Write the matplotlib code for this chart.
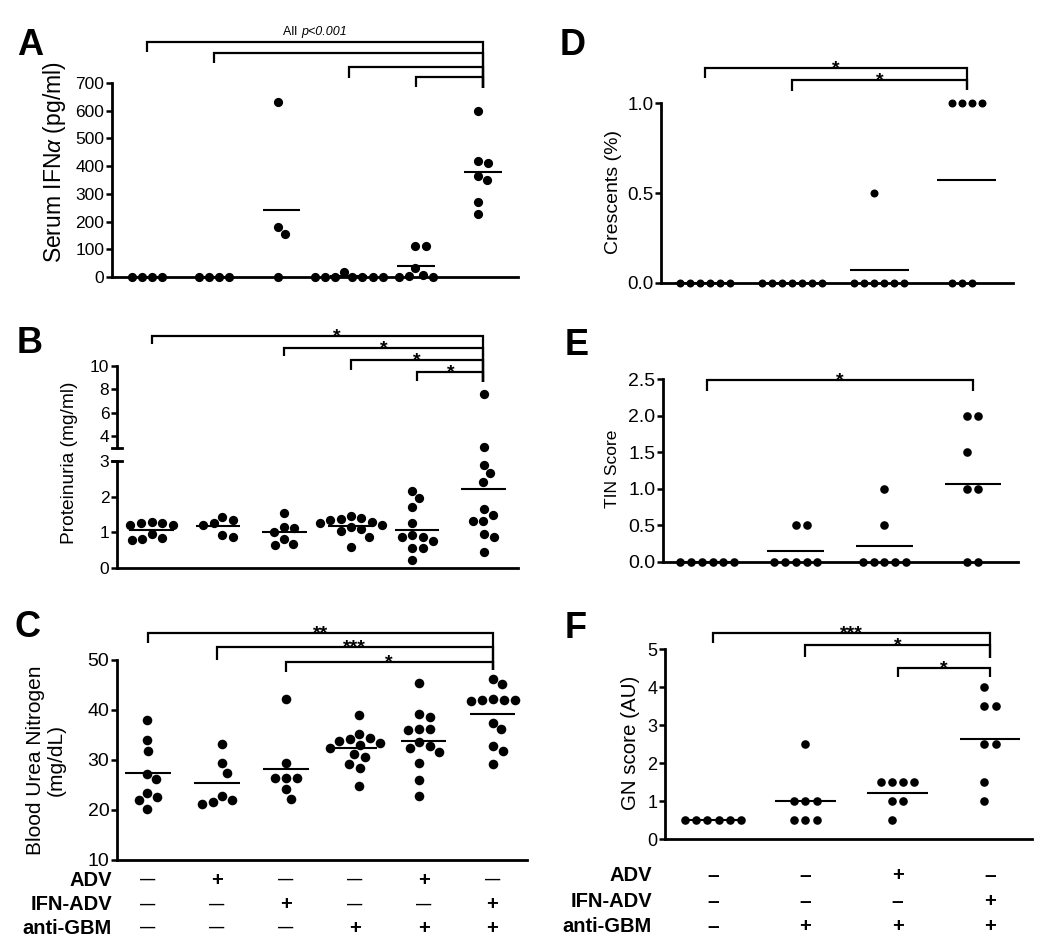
import numpy as np
import matplotlib
matplotlib.use("Agg")
import matplotlib.pyplot as plt
from matplotlib.transforms import blended_transform_factory
from matplotlib.lines import Line2D
from matplotlib.offsetbox import TextArea, HPacker, AnnotationBbox
from matplotlib.ticker import FormatStrFormatter

plt.rcParams['font.family'] = ['Liberation Sans', 'DejaVu Sans']
plt.rcParams['mathtext.fontset'] = 'custom'
plt.rcParams['mathtext.rm'] = 'Liberation Sans'
plt.rcParams['mathtext.it'] = 'Liberation Sans:italic'
plt.rcParams['mathtext.bf'] = 'Liberation Sans:bold'

# ---------------- data ----------------
# A: serum IFN-alpha (pg/ml), six groups
ifn_g1 = [0, 0, 0, 0]
ifn_g2 = [0, 0, 0, 0]
ifn_g3 = [630, 182, 155, 0]
ifn_g4 = [18, 0, 0, 0, 0, 0, 0, 0]
ifn_g5 = [112, 112, 32, 8, 5, 0, 0]
ifn_g6 = [600, 418, 410, 365, 350, 270, 228]

# B: proteinuria (mg/ml)
prot_g1 = [1.3, 1.25, 1.25, 1.2, 1.2, 0.95, 0.85, 0.8, 0.78]
prot_g2 = [1.42, 1.35, 1.25, 1.2, 0.93, 0.88]
prot_g3 = [1.55, 1.15, 1.12, 1.0, 0.82, 0.68, 0.65]
prot_g4 = [1.45, 1.4, 1.38, 1.35, 1.3, 1.25, 1.2, 1.15, 1.1, 1.05, 0.88, 0.6]
prot_g5 = [2.17, 1.95, 1.7, 1.25, 0.92, 0.86, 0.86, 0.75, 0.55, 0.55, 0.22]
prot_g6 = [7.6, 3.1, 2.9, 2.65, 2.42, 1.65, 1.48, 1.33, 1.32, 0.95, 0.87, 0.45]

# C: blood urea nitrogen (mg/dL)
bun_g1 = [38, 34, 31.8, 27.3, 26.2, 23.5, 22.7, 22, 20.3]
bun_g2 = [33.2, 29.4, 27.5, 22.9, 22, 21.6, 21.3]
bun_g3 = [42.3, 29.4, 26.5, 26.5, 26.5, 24.2, 22.3]
bun_g4 = [39, 35.2, 34.5, 34.2, 33.8, 33.5, 33, 32.5, 31.2, 30.7, 29.2, 28.4, 24.8]
bun_g5 = [45.5, 39.2, 38.7, 36.2, 36.2, 36, 33.6, 32.8, 32.4, 31.6, 29.4, 26.0, 22.9]
bun_g6 = [46.3, 45.2, 42.2, 42.1, 42.1, 42, 41.9, 37.5, 36.2, 32.8, 31.9, 29.2]

# D: crescents (%)
cres_g1 = [0, 0, 0, 0, 0, 0]
cres_g2 = [0, 0, 0, 0, 0, 0, 0]
cres_g3 = [0.5, 0, 0, 0, 0, 0, 0]
cres_g4 = [1, 1, 1, 1, 0, 0, 0]

# E: TIN score
tin_g1 = [0, 0, 0, 0, 0, 0]
tin_g2 = [0.5, 0.5, 0, 0, 0, 0, 0]
tin_g3 = [1, 0.5, 0, 0, 0, 0, 0]
tin_g4 = [2, 2, 1.5, 1, 1, 0, 0]

# F: GN score (AU)
gn_g1 = [0.5, 0.5, 0.5, 0.5, 0.5, 0.5]
gn_g2 = [2.5, 1, 1, 1, 0.5, 0.5, 0.5]
gn_g3 = [1.5, 1.5, 1.5, 1.5, 1, 1, 0.5]
gn_g4 = [4, 3.5, 3.5, 2.5, 2.5, 1.5, 1]

# tick values
ifn_ticks = [0, 100, 200, 300, 400, 500, 600, 700]
prot_low_ticks = [0, 1, 2, 3]
prot_high_ticks = [4, 6, 8, 10]
bun_ticks = [10, 20, 30, 40, 50]
cres_ticks = [0.0, 0.5, 1.0]
tin_ticks = [0.0, 0.5, 1.0, 1.5, 2.0, 2.5]
gn_ticks = [0, 1, 2, 3, 4, 5]

# treatment rows
row_names = ['ADV', 'IFN-ADV', 'anti-GBM']
c_signs = [['—', '+', '—', '—', '+', '—'],
           ['—', '—', '+', '—', '—', '+'],
           ['—', '—', '—', '+', '+', '+']]
f_signs = [['–', '–', '+', '–'],
           ['–', '–', '–', '+'],
           ['–', '+', '+', '+']]

# comparisons (group i vs group j, label)
a_pairs = [(1, 6, ''), (2, 6, ''), (4, 6, ''), (5, 6, '')]
b_pairs = [(1, 6, '*'), (3, 6, '*'), (4, 6, '*'), (5, 6, '*')]
c_pairs = [(1, 6, '**'), (2, 6, '***'), (3, 6, '*')]
d_pairs = [(1, 4, '*'), (2, 4, '*')]
e_pairs = [(1, 4, '*')]
f_pairs = [(1, 4, '***'), (2, 4, '*'), (3, 4, '*')]

# ---------------- layout helpers ----------------
W, H = 1050, 940
fig = plt.figure(figsize=(W / 100, H / 100), dpi=100)


def make_ax(x0, x1, ytop, ybot):
    return fig.add_axes([x0 / W, 1 - ybot / H, (x1 - x0) / W, (ybot - ytop) / H])


def style(ax, xlim, ylim, yticks, fs, fmt=None, bottom=True):
    ax.set_xlim(xlim)
    ax.set_ylim(ylim)
    ax.set_yticks(yticks)
    if fmt:
        ax.yaxis.set_major_formatter(FormatStrFormatter(fmt))
    ax.set_xticks([])
    for s in ('top', 'right'):
        ax.spines[s].set_visible(False)
    ax.spines['left'].set_linewidth(2.0)
    ax.spines['bottom'].set_linewidth(2.0)
    if not bottom:
        ax.spines['bottom'].set_visible(False)
    ax.tick_params(axis='y', length=4.5, width=1.8, labelsize=fs, pad=1.0)
    ax.patch.set_alpha(0)


def swarm_offsets(ys, d):
    ys = np.asarray(ys, float)
    offs = np.zeros(len(ys))
    placed = []
    for i in np.argsort(-ys, kind='stable'):
        y = ys[i]
        cands = [0.0]
        for px, py in placed:
            dy = y - py
            if abs(dy) < d:
                dx = np.sqrt(d * d - dy * dy)
                cands.extend([px + dx, px - dx])
        cands.sort(key=lambda c: (round(abs(c), 6), -c))
        chosen = cands[-1]
        for c in cands:
            if all((c - px) ** 2 + (y - py) ** 2 >= d * d - 1e-6 for px, py in placed):
                chosen = c
                break
        offs[i] = chosen
        placed.append((chosen, y))
    offs -= (offs.max() + offs.min()) / 2
    return offs


def plot_groups(ax, groups, diam, hw, gap=1.2, pick=None):
    """pick(v) -> axes on which value v is drawn (for broken axes)."""
    if pick is None:
        pick = lambda v: ax
    ppu = ax.transData.transform((1, 0))[0] - ax.transData.transform((0, 0))[0]
    s = (diam * 0.72) ** 2
    for k, vals in enumerate(groups):
        x = k + 1
        yd = [pick(v).transData.transform((x, v))[1] for v in vals]
        offs = swarm_offsets(yd, diam * gap) / ppu
        for target in {pick(v) for v in vals}:
            xs = [x + o for v, o in zip(vals, offs) if pick(v) is target]
            vs = [v for v in vals if pick(v) is target]
            target.scatter(xs, vs, s=s, color='black', linewidths=0,
                           clip_on=False, zorder=4)
        m = float(np.mean(vals))
        pick(m).plot([x - hw, x + hw], [m, m], color='black', lw=1.5,
                     solid_capstyle='butt', clip_on=False, zorder=4)


def brackets(ax, pairs, specs, fs=14, label_x=None):
    tr = blended_transform_factory(ax.transData, ax.transAxes)
    for n, ((x1, x2, lab), (ybar, yl, yr)) in enumerate(zip(pairs, specs)):
        ax.plot([x1, x1, x2, x2], [yl, ybar, ybar, yr], transform=tr,
                color='black', lw=1.6, clip_on=False, solid_joinstyle='miter',
                solid_capstyle='butt')
        if lab:
            xm = (x1 + x2) / 2
            if label_x and n in label_x:
                xm = label_x[n]
            ax.annotate(lab, xy=(xm, ybar), xycoords=tr, xytext=(0, -3.6),
                        textcoords='offset points', ha='center', va='baseline',
                        fontsize=fs, fontweight='bold', annotation_clip=False)


def hbar(ax, yfrac, half=5):
    pos = ax.get_position()
    xs = pos.x0 * W
    ys = (pos.y0 + yfrac * pos.height) * H
    fig.add_artist(Line2D([(xs - half) / W, (xs + half) / W], [ys / H, ys / H],
                          transform=fig.transFigure, color='black', lw=2))


def panel_letter(x, baseline, letter):
    fig.text(x / W, 1 - baseline / H, letter, fontsize=26, fontweight='bold',
             ha='left', va='baseline')


def ylabel(xc, yc, text, fs):
    fig.text(xc / W, 1 - yc / H, text, rotation=90, ha='center', va='center',
             fontsize=fs, multialignment='center', linespacing=1.1)


def treatment_rows(ax, signs, label_x, row_y, fs, sign_fs):
    trx = blended_transform_factory(ax.transData, ax.transAxes)
    for r, name in enumerate(row_names):
        ax.text(label_x, row_y[r], name, transform=ax.transAxes, ha='right',
                va='center', fontsize=fs, fontweight='bold')
        for g, sg in enumerate(signs[r]):
            ax.text(g + 1, row_y[r], sg, transform=trx, ha='center', va='center',
                    fontsize=sign_fs if sg != '+' else fs,
                    fontweight='bold')


# ---------------- panel A ----------------
axA = make_ax(112, 518, 83, 277)
style(axA, (0.48, 6.52), (0, 700), ifn_ticks, 12.5)
plot_groups(axA, [ifn_g1, ifn_g2, ifn_g3, ifn_g4, ifn_g5, ifn_g6], 9.2, 0.28, gap=1.1)
brackets(axA, a_pairs, [(1.211, 1.160, 0.974), (1.155, 1.103, 0.974),
                        (1.082, 1.026, 0.974), (1.031, 0.979, 0.974)])
trA = blended_transform_factory(axA.transData, axA.transAxes)
pv = HPacker(children=[TextArea("All ", textprops=dict(fontsize=9)),
                       TextArea("p<0.001", textprops=dict(fontsize=9, style='italic'))],
             pad=0, sep=0, align='baseline')
axA.add_artist(AnnotationBbox(pv, (3.5, 1.263), xycoords=trA, frameon=False,
                              box_alignment=(0.5, 0.5), annotation_clip=False))
ylabel(55, 162, r"Serum IFN$\alpha$ (pg/ml)", 16.5)
panel_letter(17, 55, 'A')

# ---------------- panel B (broken axis) ----------------
axB = make_ax(117, 518, 461, 568)
axBu = make_ax(117, 518, 366, 448)
style(axB, (0.48, 6.52), (0, 3), prot_low_ticks, 12.5)
style(axBu, (0.48, 6.52), (3, 10), prot_high_ticks, 12.5, bottom=False)
plot_groups(axB, [prot_g1, prot_g2, prot_g3, prot_g4, prot_g5, prot_g6], 9.3, 0.335,
            gap=1.15, pick=lambda v: axBu if v > 3 else axB)
brackets(axBu, b_pairs, [(1.366, 1.268, 0.805), (1.223, 1.122, 0.805),
                         (1.073, 0.951, 0.805), (0.930, 0.817, 0.805)],
         label_x={0: 3.79})
hbar(axBu, 0.0)
hbar(axB, 1.0)
ylabel(70, 463, "Proteinuria (mg/ml)", 13.8)
panel_letter(17, 353, 'B')

# ---------------- panel C ----------------
axC = make_ax(117, 527, 660, 860)
style(axC, (0.55, 6.5), (10, 50), bun_ticks, 14)
plot_groups(axC, [bun_g1, bun_g2, bun_g3, bun_g4, bun_g5, bun_g6], 9.6, 0.33, gap=1.15)
brackets(axC, c_pairs, [(1.137, 1.083, 0.95), (1.067, 1.0, 0.95), (0.99, 0.94, 0.95)])
treatment_rows(axC, c_signs, -0.012, [-0.10, -0.225, -0.34], 14.5, 11)
ylabel(46, 760, "Blood Urea Nitrogen\n(mg/dL)", 15)
panel_letter(15, 637, 'C')

# ---------------- panel D ----------------
axD = make_ax(661, 1013, 103.3, 282.7)
style(axD, (0.5, 4.53), (0, 1.0), cres_ticks, 13.5, fmt='%.1f')
plot_groups(axD, [cres_g1, cres_g2, cres_g3, cres_g4], 8.0, 0.34, gap=1.25)
brackets(axD, d_pairs, [(1.198, 1.139, 1.074), (1.130, 1.070, 1.074)])
ylabel(613, 192, "Crescents (%)", 14)
panel_letter(560, 55, 'D')

# ---------------- panel E ----------------
axE = make_ax(663, 1018, 379.3, 561.7)
style(axE, (0.5, 4.51), (0, 2.5), tin_ticks, 14, fmt='%.1f')
plot_groups(axE, [tin_g1, tin_g2, tin_g3, tin_g4], 8.6, 0.32, gap=1.25)
brackets(axE, e_pairs, [(0.996, 0.938, 0.938)])
ylabel(612.5, 469, "TIN Score", 12.5)
panel_letter(565, 355, 'E')

# ---------------- panel F ----------------
axF = make_ax(665, 1032, 649, 839.3)
style(axF, (0.48, 4.455), (0, 5), gn_ticks, 13)
plot_groups(axF, [gn_g1, gn_g2, gn_g3, gn_g4], 8.6, 0.33, gap=1.3)
brackets(axF, f_pairs, [(1.0825, 1.030, 0.953), (1.021, 0.960, 0.953),
                        (0.899, 0.855, 0.855)])
treatment_rows(axF, f_signs, -0.036, [-0.188, -0.328, -0.459], 14.5, 15)
ylabel(631, 742.5, "GN score (AU)", 14.8)
panel_letter(565, 638, 'F')

fig.savefig("out.png", dpi=100)
